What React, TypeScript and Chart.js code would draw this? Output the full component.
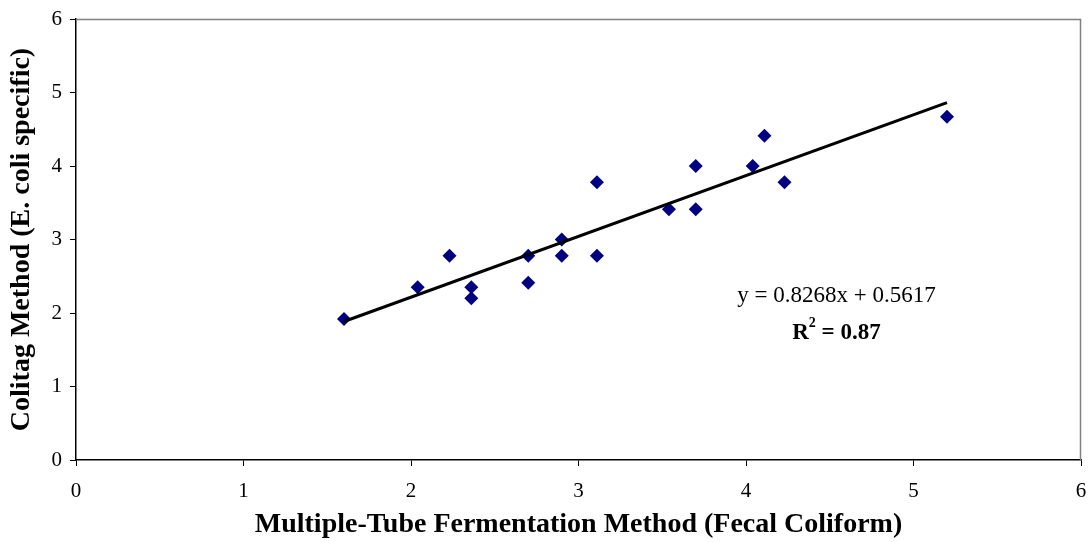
import React, { useEffect, useRef } from "react";
import { Chart, registerables } from "chart.js";

Chart.register(...registerables);

const xValues = [1.6, 2.04, 2.23, 2.36, 2.36, 2.7, 2.7, 2.9, 2.9, 3.11, 3.11, 3.54, 3.7, 3.7, 4.04, 4.11, 4.23, 5.2];
const yValues = [1.92, 2.35, 2.78, 2.35, 2.2, 2.78, 2.41, 3.0, 2.78, 3.78, 2.78, 3.41, 4.0, 3.41, 4.0, 4.41, 3.78, 4.67];
const slope = 0.8268;
const intercept = 0.5617;
const rSquared = "0.87";
const xTitle = "Multiple-Tube Fermentation Method (Fecal Coliform)";
const yTitle = "Colitag Method (E. coli specific)";

const FONT = "'Liberation Serif', 'Times New Roman', serif";

const framePlugin = {
  id: "frameAndLabel",
  afterDraw(chart: any) {
    const { ctx, chartArea } = chart;
    const { left, top, right, bottom } = chartArea;
    ctx.save();
    ctx.strokeStyle = "#808080";
    ctx.lineWidth = 1.5;
    ctx.beginPath();
    ctx.moveTo(left, top + 0.5);
    ctx.lineTo(right - 0.5, top + 0.5);
    ctx.lineTo(right - 0.5, bottom);
    ctx.stroke();

    const xs = chart.scales.x;
    const ys = chart.scales.y;
    const cx = xs.getPixelForValue(4.54);
    const line1Y = ys.getPixelForValue(2.23);
    const line2Y = ys.getPixelForValue(1.73);
    ctx.fillStyle = "#000";
    ctx.textBaseline = "middle";
    ctx.textAlign = "center";
    ctx.font = `23px ${FONT}`;
    ctx.fillText(`y = ${slope}x + ${intercept}`, cx, line1Y);

    ctx.textAlign = "left";
    const bold = `bold 23px ${FONT}`;
    const sup = `bold 14px ${FONT}`;
    ctx.font = bold;
    const wR = ctx.measureText("R").width;
    const rest = ` = ${rSquared}`;
    const wRest = ctx.measureText(rest).width;
    ctx.font = sup;
    const w2 = ctx.measureText("2").width;
    const total = wR + w2 + wRest;
    let x0 = cx - total / 2;
    ctx.font = bold;
    ctx.fillText("R", x0, line2Y);
    x0 += wR;
    ctx.font = sup;
    ctx.fillText("2", x0, line2Y - 9);
    x0 += w2;
    ctx.font = bold;
    ctx.fillText(rest, x0, line2Y);
    ctx.restore();
  },
};

export default function App() {
  const canvasRef = useRef<HTMLCanvasElement | null>(null);

  useEffect(() => {
    document.body.style.margin = "0";
    const canvas = canvasRef.current;
    if (!canvas) return;
    const points = xValues.map((x, i) => ({ x, y: yValues[i] }));
    const xMin = Math.min(...xValues);
    const xMax = Math.max(...xValues);
    const trend = [
      { x: xMin, y: slope * xMin + intercept },
      { x: xMax, y: slope * xMax + intercept },
    ];
    const chart = new Chart(canvas, {
      type: "scatter",
      data: {
        datasets: [
          {
            type: "line",
            data: trend,
            borderColor: "#000",
            borderWidth: 3,
            pointRadius: 0,
            fill: false,
          } as any,
          {
            data: points,
            pointStyle: "rectRot",
            pointRadius: 7,
            backgroundColor: "#000080",
            borderColor: "#000080",
            borderWidth: 0,
          },
        ],
      },
      options: {
        animation: false,
        responsive: true,
        maintainAspectRatio: false,
        layout: { padding: { top: 19, right: 5, left: 0, bottom: 0 } },
        plugins: {
          legend: { display: false },
          tooltip: { enabled: false },
        },
        scales: {
          x: {
            type: "linear",
            min: 0,
            max: 6,
            ticks: {
              stepSize: 1,
              color: "#000",
              font: { family: FONT, size: 21 },
              padding: 13,
            },
            grid: { display: true, drawOnChartArea: false, drawTicks: true, tickLength: 6, color: "#000" },
            border: { color: "#000", width: 1.5 },
            title: {
              display: true,
              text: xTitle,
              color: "#000",
              font: { family: FONT, size: 28, weight: "bold" },
              padding: { top: 0, bottom: 0 },
            },
            afterFit(scale: any) {
              scale.height = 82;
              scale.paddingRight = 0;
              scale.paddingLeft = 0;
            },
          },
          y: {
            type: "linear",
            min: 0,
            max: 6,
            ticks: {
              stepSize: 1,
              color: "#000",
              font: { family: FONT, size: 21 },
              padding: 8,
            },
            grid: { display: true, drawOnChartArea: false, drawTicks: true, tickLength: 6, color: "#000" },
            border: { color: "#000", width: 1.5 },
            title: {
              display: true,
              text: yTitle,
              color: "#000",
              font: { family: FONT, size: 28, weight: "bold" },
              padding: { top: 5, bottom: 0 },
            },
            afterFit(scale: any) {
              scale.width = 76;
              scale.paddingTop = 0;
              scale.paddingBottom = 0;
            },
          },
        },
      },
      plugins: [framePlugin],
    });
    return () => chart.destroy();
  }, []);

  return (
    <div style={{ position: "absolute", left: 0, top: 0, width: 1088, height: 542, background: "#fff" }}>
      <canvas ref={canvasRef} />
    </div>
  );
}
